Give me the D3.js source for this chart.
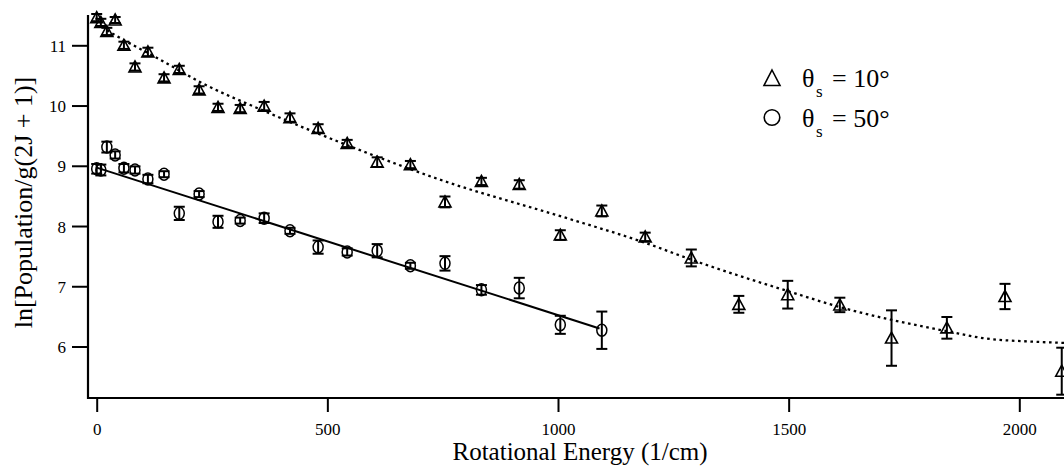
<!DOCTYPE html>
<html>
<head>
<meta charset="utf-8">
<script src="https://cdn.jsdelivr.net/npm/d3@7"></script>
<style>
  html, body { margin: 0; padding: 0; background: #fff; }
  svg { display: block; }
  text { font-family: "Liberation Serif", "Times New Roman", serif; fill: #000; }
</style>
</head>
<body>
<svg id="chart" width="1064" height="466"></svg>
<script>
// ---- data ----
const energy = [0, 9, 22, 40, 59, 83, 111, 146, 179, 222, 263, 311, 363, 419, 480, 543,
                608, 680, 755, 834, 916, 1005, 1095, 1189, 1289, 1392, 1498, 1611, 1723, 1843, 1969, 2092];
const triVal = [11.46, 11.38, 11.23, 11.42, 11.00, 10.64, 10.89, 10.46, 10.60, 10.26, 9.97, 9.95,
                9.99, 9.80, 9.62, 9.37, 9.06, 9.02, 8.40, 8.74, 8.69, 7.85, 8.25, 7.82, 7.47, 6.70,
                6.86, 6.69, 6.14, 6.31, 6.83, 5.59];
const triErr = [0.06, 0.06, 0.06, 0.05, 0.06, 0.06, 0.07, 0.06, 0.06, 0.06, 0.06, 0.06, 0.07, 0.07,
                0.07, 0.06, 0.08, 0.06, 0.09, 0.06, 0.07, 0.08, 0.09, 0.07, 0.14, 0.14, 0.23, 0.12,
                0.46, 0.18, 0.21, 0.39];
const circVal = [8.95, 8.93, 9.31, 9.18, 8.96, 8.93, 8.78, 8.86, 8.21, 8.53, 8.07, 8.09, 8.13, 7.92,
                 7.65, 7.57, 7.59, 7.34, 7.38, 6.94, 6.97, 6.36, 6.27];
const circErr = [0.08, 0.09, 0.09, 0.06, 0.07, 0.06, 0.07, 0.05, 0.11, 0.05, 0.10, 0.05, 0.08, 0.05,
                 0.11, 0.06, 0.11, 0.05, 0.12, 0.08, 0.17, 0.15, 0.31];
// fitted curves
const fitTriE = [22, 51, 131, 224, 369, 564, 744, 1011, 1178, 1308, 1498, 1618, 1724, 1846, 1921, 2030, 2097];
const fitTriV = [11.25, 11.12, 10.79, 10.39, 9.89, 9.28, 8.77, 8.15, 7.75, 7.39, 6.92, 6.64, 6.44, 6.25, 6.14, 6.08, 6.06];
const fitCircE = [0, 1090];
const fitCircV = [8.97, 6.30];
const xTicks = [0, 500, 1000, 1500, 2000];
const yTicks = [6, 7, 8, 9, 10, 11];
const legendLabels = ["= 10°", "= 50°"];
const xTitle = "Rotational Energy (1/cm)";
const yTitle = "ln[Population/g(2J + 1)]";

// ---- layout ----
const svg = d3.select("#chart");
const axisLeftX = 88, axisBottomY = 398, axisTopY = 15, rightX = 1064;
const x = d3.scaleLinear().domain([0, 2000]).range([96.7, 1019.3]);
const y = d3.scaleLinear().domain([6, 11]).range([346.5, 45.3]);

svg.append("defs").append("clipPath").attr("id", "clip")
  .append("rect").attr("x", axisLeftX).attr("y", 0).attr("width", rightX - axisLeftX).attr("height", axisBottomY);

// axes lines
svg.append("line").attr("x1", axisLeftX).attr("x2", axisLeftX).attr("y1", axisTopY).attr("y2", axisBottomY + 1)
  .attr("stroke", "#000").attr("stroke-width", 2.2);
svg.append("line").attr("x1", axisLeftX - 1).attr("x2", rightX).attr("y1", axisBottomY).attr("y2", axisBottomY)
  .attr("stroke", "#000").attr("stroke-width", 2.2);

// y axis
const yAxis = svg.append("g").attr("transform", `translate(${axisLeftX},0)`)
  .call(d3.axisLeft(y).tickValues(yTicks).tickFormat(d3.format("d")).tickSize(16).tickPadding(6));
yAxis.select(".domain").remove();
yAxis.selectAll(".tick line").attr("stroke-width", 2);
yAxis.selectAll(".tick text").attr("font-size", 17).attr("font-family", "Liberation Serif, serif").attr("dy", "0.36em");

// x axis
const xAxis = svg.append("g").attr("transform", `translate(0,${axisBottomY + 1})`)
  .call(d3.axisBottom(x).tickValues(xTicks).tickFormat(d3.format("d")).tickSize(13).tickPadding(11));
xAxis.select(".domain").remove();
xAxis.selectAll(".tick line").attr("stroke-width", 2);
xAxis.selectAll(".tick text").attr("font-size", 17).attr("font-family", "Liberation Serif, serif");

// titles
svg.append("text").attr("x", 580).attr("y", 459.5).attr("text-anchor", "middle")
  .attr("font-size", 25).text(xTitle);
svg.append("text").attr("transform", "translate(32,202.5) rotate(-90)").attr("text-anchor", "middle")
  .attr("font-size", 26).text(yTitle);

const plot = svg.append("g").attr("clip-path", "url(#clip)");

// fit lines
const line = d3.line().x(d => x(d[0])).y(d => y(d[1]));
plot.append("path").datum(fitTriE.map((e, i) => [e, fitTriV[i]]))
  .attr("d", line.curve(d3.curveMonotoneX)).attr("fill", "none").attr("stroke", "#000")
  .attr("stroke-width", 2.3).attr("stroke-dasharray", "2.6,3.6");
plot.append("path").datum(fitCircE.map((e, i) => [e, fitCircV[i]]))
  .attr("d", d3.line().x(d => x(d[0])).y(d => y(d[1]))).attr("fill", "none").attr("stroke", "#000")
  .attr("stroke-width", 2);

// error bars
function errorBars(vals, errs) {
  const g = plot.append("g").attr("stroke", "#000").attr("stroke-width", 2);
  vals.forEach((v, i) => {
    const cx = x(energy[i]);
    const y1 = y(v + errs[i]), y2 = y(v - errs[i]);
    g.append("line").attr("x1", cx).attr("x2", cx).attr("y1", y1).attr("y2", y2);
    g.append("line").attr("x1", cx - 5.5).attr("x2", cx + 5.5).attr("y1", y1).attr("y2", y1);
    g.append("line").attr("x1", cx - 5.5).attr("x2", cx + 5.5).attr("y1", y2).attr("y2", y2);
  });
}
errorBars(triVal, triErr);
errorBars(circVal, circErr);

// markers
plot.append("g").selectAll("path").data(triVal).join("path")
  .attr("transform", (d, i) => `translate(${x(energy[i])},${y(d)})`)
  .attr("d", "M0,-6L6,5L-6,5Z").attr("fill", "none").attr("stroke", "#000").attr("stroke-width", 1.6);
plot.append("g").selectAll("ellipse").data(circVal).join("ellipse")
  .attr("cx", (d, i) => x(energy[i])).attr("cy", d => y(d)).attr("rx", 5).attr("ry", 6)
  .attr("fill", "none").attr("stroke", "#000").attr("stroke-width", 1.5);

// legend
const lg = svg.append("g");
lg.append("path").attr("transform", "translate(772,78)").attr("d", "M0,-8L8,7.5L-8,7.5Z")
  .attr("fill", "none").attr("stroke", "#000").attr("stroke-width", 1.6);
lg.append("circle").attr("cx", 772).attr("cy", 117.5).attr("r", 7.8)
  .attr("fill", "none").attr("stroke", "#000").attr("stroke-width", 1.6);
legendLabels.forEach((lab, i) => {
  const by = 87 + i * 39.5;
  lg.append("text").attr("x", 802).attr("y", by).attr("font-size", 26).text("θ");
  lg.append("text").attr("x", 816).attr("y", by + 10).attr("font-size", 17).text("s");
  lg.append("text").attr("x", 832).attr("y", by).attr("font-size", 26).text(lab);
});
</script>
</body>
</html>
